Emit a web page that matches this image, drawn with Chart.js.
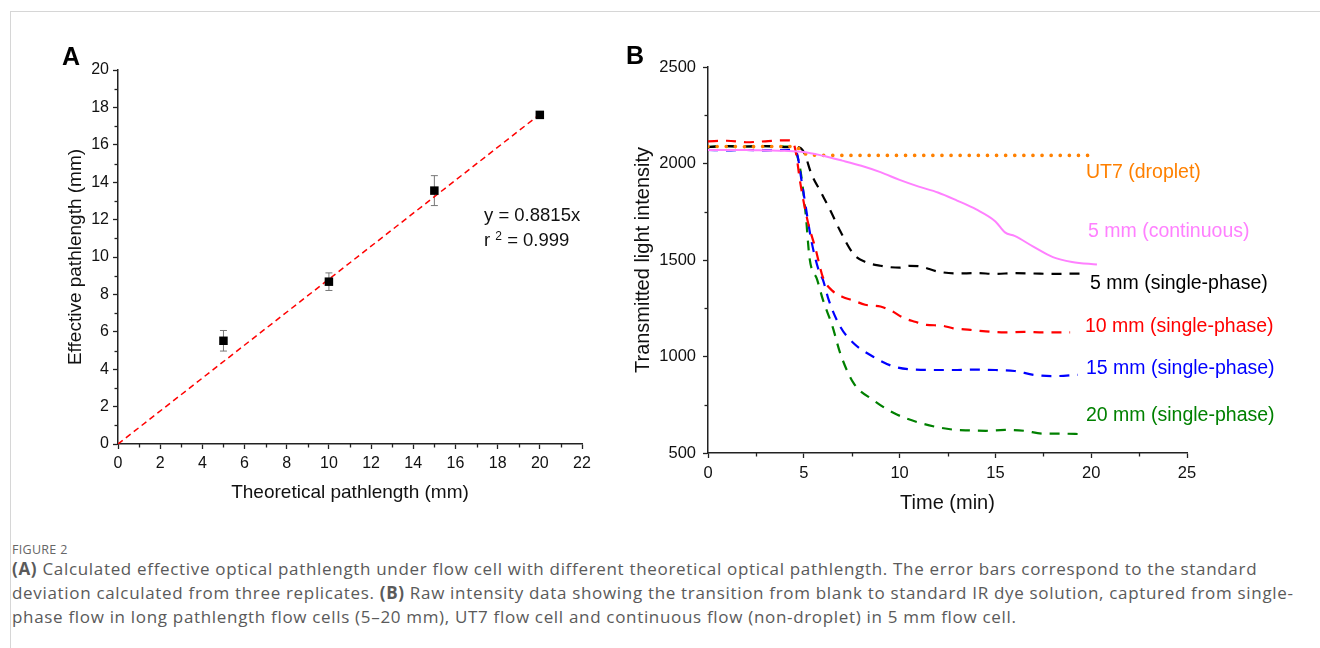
<!DOCTYPE html>
<html><head><meta charset="utf-8">
<script src="https://cdn.jsdelivr.net/npm/chart.js@4.4.1/dist/chart.umd.min.js"></script>
<style>
body{margin:0;background:#fff;width:1320px;height:648px;overflow:hidden;position:relative;font-family:"Liberation Sans",Arial,sans-serif;}
.frame{position:absolute;left:10px;top:11px;width:1330px;height:700px;border-top:1.5px solid #d6d6d6;border-left:1.5px solid #d6d6d6;}
canvas{position:absolute;top:0;}
#cA{left:0}
#cB{left:620px}
.t{position:absolute;white-space:nowrap;line-height:1;transform:translateY(-50%);}
.panel{font-weight:bold;font-size:25px;color:#000;}
.eq{font-size:18.5px;color:#111;}
.lab{font-size:19.5px;}
.cap{position:absolute;left:12px;font-family:"Open Sans","Noto Sans",sans-serif;color:#5a5a5a;white-space:nowrap;}
.fig{top:541px;font-size:12.5px;letter-spacing:0.3px;color:#666;}
.body{top:557px;font-size:17px;line-height:24px;letter-spacing:0.68px;}
</style></head>
<body>
<div class="frame"></div>
<canvas id="cA" width="620" height="520"></canvas>
<canvas id="cB" width="700" height="520"></canvas>
<div class="t panel" style="left:62px;top:56px">A</div>
<div class="t panel" style="left:626px;top:55px">B</div>
<div class="t eq" style="left:484px;top:215px">y = 0.8815x</div>
<div class="t eq" style="left:484px;top:240px">r <span style="font-size:12px;position:relative;top:-6px">2</span> = 0.999</div>
<div class="t lab" style="left:1086px;top:172px;color:#ff8000">UT7 (droplet)</div>
<div class="t lab" style="left:1088px;top:231px;color:#ff80ff">5 mm (continuous)</div>
<div class="t lab" style="left:1090px;top:283px;color:#000">5 mm (single-phase)</div>
<div class="t lab" style="left:1085px;top:326px;color:#ff0000">10 mm (single-phase)</div>
<div class="t lab" style="left:1086px;top:368px;color:#0000ff">15 mm (single-phase)</div>
<div class="t lab" style="left:1086px;top:415px;color:#008000">20 mm (single-phase)</div>
<div class="cap fig">FIGURE 2</div>
<div class="cap body"><b>(A)</b> Calculated effective optical pathlength under flow cell with different theoretical optical pathlength. The error bars correspond to the standard<br>deviation calculated from three replicates. <b>(B)</b> Raw intensity data showing the transition from blank to standard IR dye solution, captured from single-<br>phase flow in long pathlength flow cells (5–20 mm), UT7 flow cell and continuous flow (non-droplet) in 5 mm flow cell.</div>
<script>
// ---- Panel A data ----
const theoLen = [5, 10, 15, 20];
const effLen = [5.52, 8.68, 13.55, 17.6];
const effErr = [0.55, 0.47, 0.8, 0.1];
const fitX = [0, 20];
const fitY = [0, 17.63];
const xTicksA = [0, 22, 2];
const yTicksA = [0, 20, 2];

// ---- Panel B data ----
const tUT7 = [0, 1, 2, 3, 4, 4.6, 5, 6, 8, 10, 12, 14, 16, 18, 19.9];
const vUT7 = [2088, 2088, 2087, 2088, 2088, 2086, 2052, 2042, 2042, 2042, 2042, 2042, 2042, 2042, 2042];
const tCont = [0, 1, 2, 3, 4, 5, 6, 7, 8, 9, 10, 11, 12, 13, 14, 15, 15.5, 16, 17, 18, 19, 20.3];
const vCont = [2070, 2070, 2070, 2068, 2066, 2060, 2040, 2015, 1988, 1955, 1915, 1880, 1850, 1808, 1762, 1700, 1643, 1625, 1568, 1515, 1490, 1477];
const t5 = [0, 1, 2, 3, 4, 4.6, 5, 5.4, 5.9, 6.4, 6.9, 7.6, 8.2, 9, 10, 10.5, 11, 12, 13, 14, 15, 16, 17, 18, 19.5];
const v5 = [2085, 2090, 2088, 2090, 2085, 2085, 2060, 1945, 1850, 1754, 1650, 1530, 1490, 1470, 1460, 1470, 1468, 1440, 1430, 1432, 1428, 1432, 1430, 1428, 1430];
const t10 = [0, 1, 2, 3, 4, 4.4, 4.6, 4.8, 5.2, 5.6, 6.0, 6.5, 7.0, 7.6, 8.2, 9.0, 9.6, 10.2, 10.8, 11.4, 12.2, 12.8, 13.7, 14.5, 15.5, 16.5, 17.5, 18.9];
const v10 = [2115, 2118, 2110, 2115, 2120, 2118, 2050, 1910, 1702, 1563, 1410, 1340, 1310, 1290, 1268, 1259, 1235, 1200, 1180, 1164, 1160, 1146, 1138, 1130, 1125, 1128, 1125, 1125];
const t15 = [0, 1, 2, 3, 4, 4.6, 4.9, 5.4, 5.8, 6.0, 6.3, 6.9, 7.6, 8.6, 9.7, 11.1, 12, 13, 14, 15, 16, 17, 18, 19.3];
const v15 = [2070, 2068, 2070, 2068, 2070, 2060, 1900, 1598, 1440, 1397, 1293, 1155, 1069, 1000, 948, 931, 930, 930, 932, 930, 925, 905, 898, 905];
const t20 = [0, 1, 2, 3, 4, 4.4, 4.8, 5.1, 5.3, 5.7, 6.0, 6.5, 6.9, 7.6, 8.6, 9.7, 11.1, 12.8, 13.7, 14.5, 15.5, 16.5, 17.5, 18.5, 19.5];
const v20 = [2085, 2090, 2088, 2090, 2088, 2085, 1979, 1736, 1510, 1397, 1293, 1155, 1017, 862, 776, 707, 655, 621, 617, 615, 620, 615, 600, 600, 598];
const xTicksB = [0, 25, 5];
const yTicksB = [500, 2500, 500];

const pts = (xs, ys) => xs.map((x, i) => ({x, y: ys[i]}));
const AX = '#222';

const minorTicks = {
  id: 'minorTicks',
  afterDraw(chart) {
    const ctx = chart.ctx, ca = chart.chartArea;
    ctx.save(); ctx.strokeStyle = AX; ctx.lineWidth = 1.3;
    const xs = chart.scales.x, ys = chart.scales.y;
    const mids = s => { const r = []; for (let i = 0; i + 1 < s.ticks.length; i++) r.push((s.ticks[i].value + s.ticks[i+1].value) / 2); return r; };
    mids(xs).forEach(v => { const p = Math.round(xs.getPixelForValue(v)) + 0.5; ctx.beginPath(); ctx.moveTo(p, ca.bottom); ctx.lineTo(p, ca.bottom + 3.5); ctx.stroke(); });
    mids(ys).forEach(v => { const p = Math.round(ys.getPixelForValue(v)) + 0.5; ctx.beginPath(); ctx.moveTo(ca.left, p); ctx.lineTo(ca.left - 3.5, p); ctx.stroke(); });
    ctx.restore();
  }
};

const errBars = {
  id: 'errBars',
  beforeDatasetsDraw(chart) {
    const ctx = chart.ctx, xs = chart.scales.x, ys = chart.scales.y;
    ctx.save(); ctx.strokeStyle = '#777'; ctx.lineWidth = 1;
    theoLen.forEach((x, i) => {
      const px = xs.getPixelForValue(x);
      const y1 = ys.getPixelForValue(effLen[i] + effErr[i]);
      const y2 = ys.getPixelForValue(effLen[i] - effErr[i]);
      ctx.beginPath();
      ctx.moveTo(px, y1); ctx.lineTo(px, y2);
      ctx.moveTo(px - 3.5, y1); ctx.lineTo(px + 3.5, y1);
      ctx.moveTo(px - 3.5, y2); ctx.lineTo(px + 3.5, y2);
      ctx.stroke();
    });
    ctx.restore();
  }
};

function axis(range, opts) {
  return {
    type: 'linear', min: range[0], max: range[1],
    border: {display: true, color: AX, width: 1.5},
    grid: {display: true, drawOnChartArea: false, tickLength: 5, tickColor: AX, tickWidth: 1.3},
    ticks: {stepSize: range[2], color: '#111', font: {family: 'Liberation Sans', size: opts.tickSize}, padding: opts.pad, callback: v => String(v)},
    title: {display: true, text: opts.title, color: '#111', font: {family: 'Liberation Sans', size: opts.titleSize}, padding: opts.titlePad},
    afterFit: opts.fit
  };
}

new Chart(document.getElementById('cA'), {
  type: 'scatter',
  data: {datasets: [
    {type: 'scatter', data: pts(theoLen, effLen), pointStyle: 'rect', pointRadius: 6, backgroundColor: '#000', borderColor: '#000', borderWidth: 0, order: 0},
    {type: 'line', data: pts(fitX, fitY), borderColor: '#ff0000', borderWidth: 1.5, borderDash: [6, 4], pointRadius: 0, order: 1}
  ]},
  options: {
    responsive: false, animation: false, devicePixelRatio: 1,
    layout: {padding: {top: 70, right: 38, left: 0, bottom: 0}},
    plugins: {legend: {display: false}, tooltip: {enabled: false}},
    scales: {
      x: axis(xTicksA, {tickSize: 16, pad: 5, title: 'Theoretical pathlength (mm)', titleSize: 19, titlePad: {top: 0, bottom: 16}, fit: s => { s.height = 76; }}),
      y: axis(yTicksA, {tickSize: 16, pad: 4, title: 'Effective pathlength (mm)', titleSize: 19, titlePad: {top: 64, bottom: 0}, fit: s => { s.width = 118; }})
    }
  },
  plugins: [minorTicks, errBars]
});

const lineDs = (xs, ys, color, dash, width, cap) => ({
  data: pts(xs, ys), borderColor: color, borderWidth: width, borderDash: dash, borderCapStyle: cap || 'butt',
  pointRadius: 0, cubicInterpolationMode: 'monotone', fill: false
});

new Chart(document.getElementById('cB'), {
  type: 'line',
  data: {datasets: [
    lineDs(tCont, vCont, '#ff80ff', [], 2),
    lineDs(tUT7, vUT7, '#ff8000', [0.1, 9], 3.6, 'round'),
    lineDs(t5, v5, '#000000', [10, 8], 2.2),
    lineDs(t10, v10, '#ff0000', [10, 8], 2.2),
    lineDs(t15, v15, '#0000ff', [10, 8], 2.2),
    lineDs(t20, v20, '#008000', [10, 8], 2.2)
  ]},
  options: {
    responsive: false, animation: false, devicePixelRatio: 1,
    layout: {padding: {top: 67, right: 133, left: 0, bottom: 0}},
    plugins: {legend: {display: false}, tooltip: {enabled: false}},
    scales: {
      x: axis(xTicksB, {tickSize: 16.5, pad: 6, title: 'Time (min)', titleSize: 20, titlePad: {top: 0, bottom: 5}, fit: s => { s.height = 67; }}),
      y: axis(yTicksB, {tickSize: 16.5, pad: 7, title: 'Transmitted light intensity', titleSize: 20, titlePad: {top: 11, bottom: 0}, fit: s => { s.width = 88; }})
    }
  },
  plugins: [minorTicks]
});
</script>
</body></html>
